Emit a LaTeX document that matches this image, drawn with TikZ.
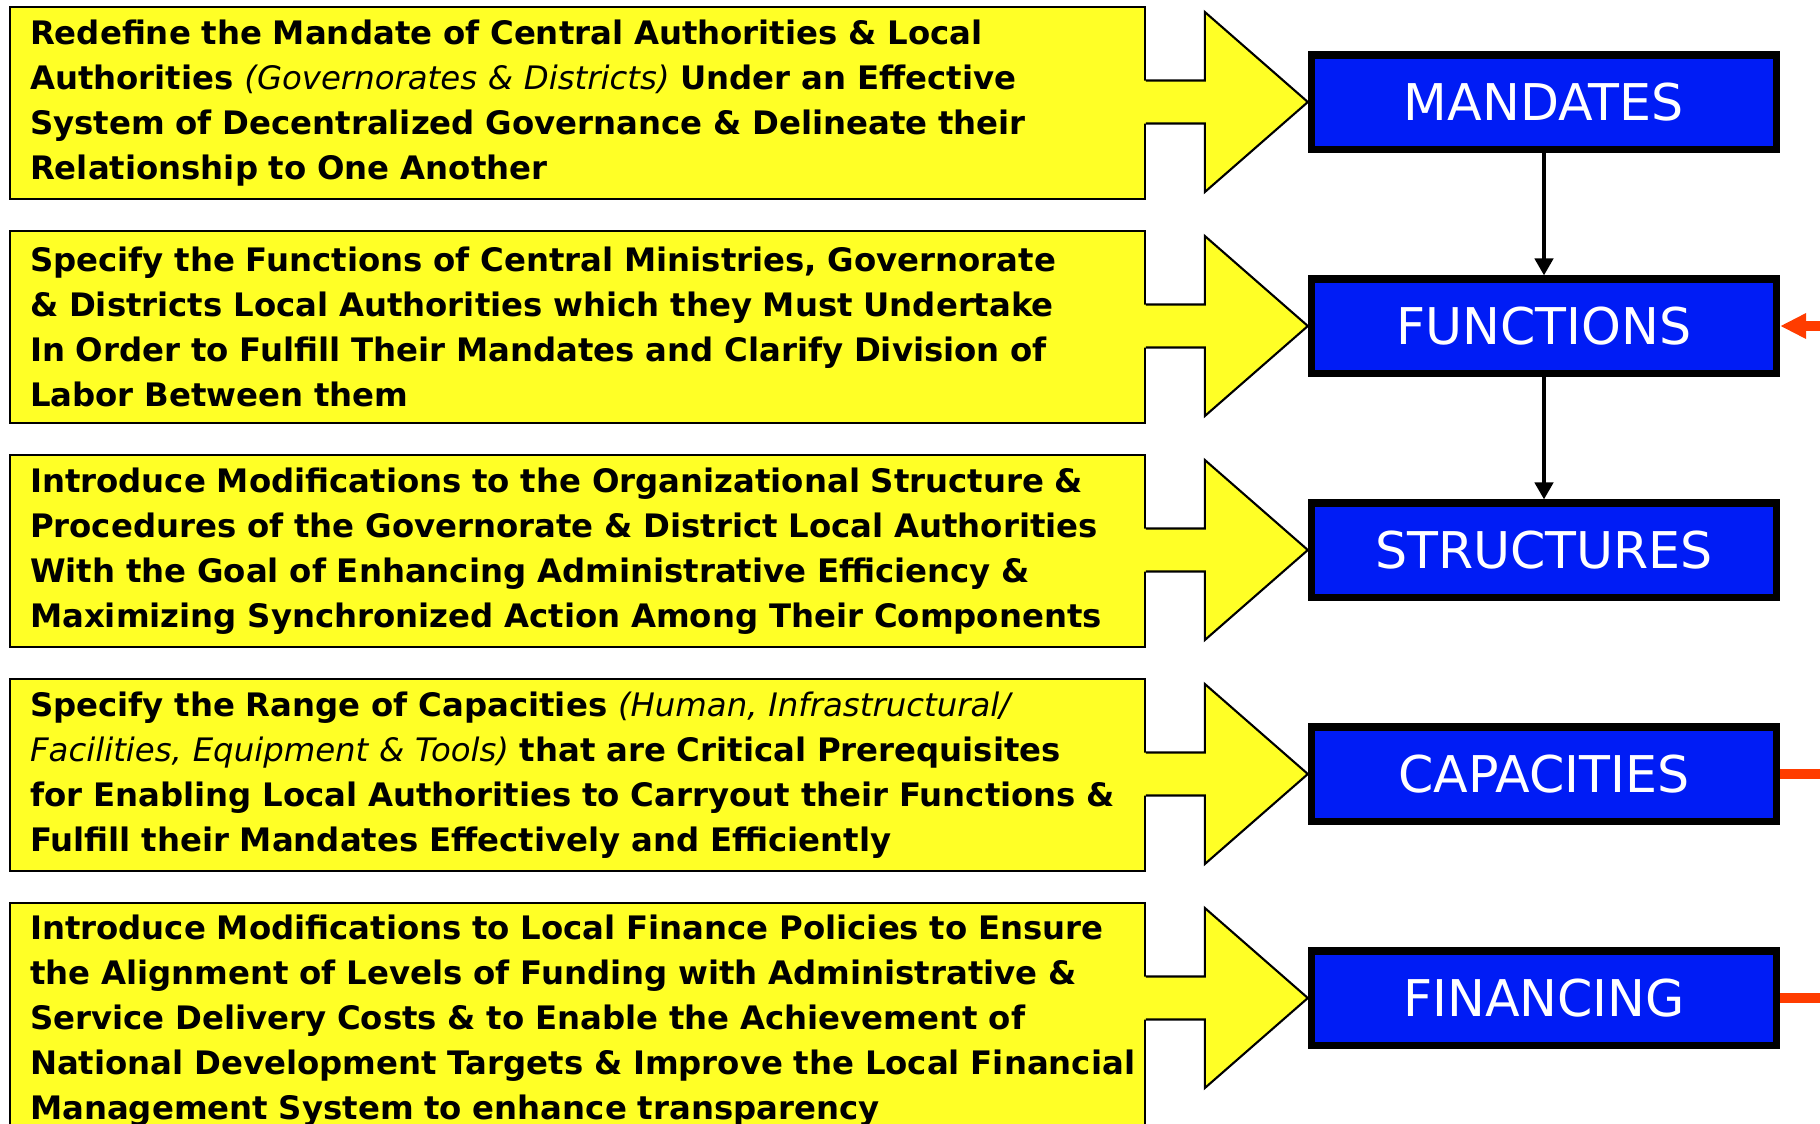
\documentclass[tikz,border=0pt]{standalone}
\usepackage{fontspec}
\setmainfont{DejaVu Sans}
\usetikzlibrary{calc,arrows.meta}
\definecolor{padyellow}{RGB}{255,255,38}
\definecolor{padblue}{RGB}{0,28,245}
\definecolor{padred}{RGB}{255,60,0}
\pgfdeclarelayer{back}
\pgfdeclarelayer{mid}
\pgfsetlayers{back,mid,main}
\begin{document}
\begin{tikzpicture}[x=0.01cm, y=-0.01cm,
    task/.style={rectangle, draw, line width=0.6pt, fill=padyellow, anchor=north west,
      minimum width=11.34cm, minimum height=1.92cm, text width=10.94cm, inner xsep=0.2cm,
      align=left, font=\fontsize{9.2}{12.8}\selectfont\bfseries},
    pillar/.style={rectangle, draw, line width=2pt, fill=padblue, text=white,
      minimum width=4.65cm, minimum height=0.94cm, font=\fontsize{14.4}{16}\selectfont},
    bigarrow/.style={line width=0.6pt, line join=miter},
    flow/.style={line width=1.3pt, -{Triangle[length=0.17cm, width=0.18cm]}},
    feed/.style={line width=2.6pt, padred}]
  \useasboundingbox (0,0) rectangle (1820,1123);
  % left column
  \begin{pgfonlayer}{back}
  \node (t1) at (9,6) [task] {Redefine the Mandate of Central Authorities \& Local\\
    Authorities {\mdseries\itshape (Governorates \& Districts)} Under an Effective\\
    System of Decentralized Governance \& Delineate their\\
    Relationship to One Another};
  \node (t2) at (9,230) [task] {Specify the Functions of Central Ministries, Governorate\\
    \& Districts Local Authorities which they Must Undertake\\
    In Order to Fulfill Their Mandates and Clarify Division of\\
    Labor Between them};
  \node (t3) at (9,454) [task] {Introduce Modifications to the Organizational Structure \&\\
    Procedures of the Governorate \& District Local Authorities\\
    With the Goal of Enhancing Administrative Efficiency \&\\
    Maximizing Synchronized Action Among Their Components};
  \node (t4) at (9,678) [task] {Specify the Range of Capacities {\mdseries\itshape (Human, Infrastructural/}\\
    {\mdseries\itshape Facilities, Equipment \& Tools)} that are Critical Prerequisites\\
    for Enabling Local Authorities to Carryout their Functions \&\\
    Fulfill their Mandates Effectively and Efficiently};
  \node (t5) at (9,902) [task, minimum height=2.36cm] {Introduce Modifications to Local Finance Policies to Ensure\\
    the Alignment of Levels of Funding with Administrative \&\\
    Service Delivery Costs \& to Enable the Achievement of\\
    \mbox{National Development Targets \& Improve the Local Financial}\\
    Management System to enhance transparency};
  \end{pgfonlayer}
  % right column
  \node (mandates) at (1544,102) [pillar] {MANDATES};
  \node (functions) at (1544,326) [pillar] {FUNCTIONS};
  \node (structures) at (1544,550) [pillar] {STRUCTURES};
  \node (capacities) at (1544,774) [pillar] {CAPACITIES};
  \node (financing) at (1544,998) [pillar] {FINANCING};
  % block arrows
  \begin{pgfonlayer}{mid}
  \foreach \src/\dest in {t1/mandates, t2/functions, t3/structures, t4/capacities, t5/financing}{
    \fill[padyellow] ($(\src.east |- \dest.west)+(-2,-21.5)$) -- ($(\dest.west)+(-103,-21.5)$)
      -- ($(\dest.west)+(-103,-90)$) -- (\dest.west) -- ($(\dest.west)+(-103,90)$)
      -- ($(\dest.west)+(-103,21.5)$) -- ($(\src.east |- \dest.west)+(-2,21.5)$) -- cycle;
    \draw[bigarrow] ($(\src.east |- \dest.west)+(0,-21.5)$) -- ($(\dest.west)+(-103,-21.5)$)
      -- ($(\dest.west)+(-103,-90)$) -- (\dest.west) -- ($(\dest.west)+(-103,90)$)
      -- ($(\dest.west)+(-103,21.5)$) -- ($(\src.east |- \dest.west)+(0,21.5)$);
  }
  \end{pgfonlayer}
  \draw[flow] (mandates) -- (functions);
  \draw[flow] (functions) -- (structures);
  % links leaving the page
  \coordinate (f2) at (1830,326);
  \coordinate (f4) at (1830,774);
  \coordinate (f5) at (1830,998);
  \draw[feed, -{Triangle[length=0.26cm, width=0.24cm]}] (f2) -- (functions.east);
  \draw[feed] (capacities.east) -- (f4);
  \draw[feed] (financing.east) -- (f5);
\end{tikzpicture}
\end{document}
